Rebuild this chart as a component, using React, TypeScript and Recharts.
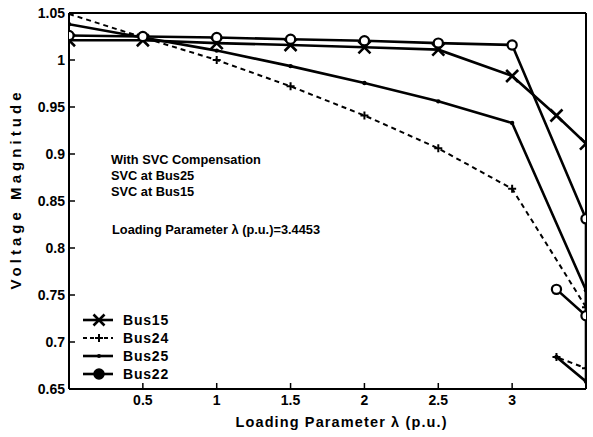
import React from 'react';
import { LineChart, Line, XAxis, YAxis, Legend } from 'recharts';

// ---- data ----
const xTicks = [0.5, 1, 1.5, 2, 2.5, 3];
const yTicks = [0.65, 0.7, 0.75, 0.8, 0.85, 0.9, 0.95, 1, 1.05];

const bus15Lambda = [0, 0.5, 1, 1.5, 2, 2.5, 3.0, 3.3, 3.5];
const bus15V = [1.021, 1.021, 1.018, 1.016, 1.0135, 1.011, 0.983, 0.941, 0.911];

const branchLambda = [0, 0.5, 1, 1.5, 2, 2.5, 3.0, 3.5, 3.5, 3.3];
const bus24V = [1.049, 1.024, 1.0, 0.972, 0.941, 0.906, 0.863, 0.737, 0.672, 0.684];
const bus25V = [1.038, 1.024, 1.01, 0.9935, 0.9755, 0.956, 0.933, 0.755, 0.658, 0.684];
const bus22V = [1.026, 1.025, 1.024, 1.022, 1.0205, 1.018, 1.016, 0.831, 0.728, 0.756];

const seriesNames = ['Bus15', 'Bus24', 'Bus25', 'Bus22'];

const toRows = (xs: number[], ys: number[]) => xs.map((x, i) => ({ x, v: ys[i] }));
const bus15Data = toRows(bus15Lambda, bus15V);
const bus24Data = toRows(branchLambda, bus24V);
const bus25Data = toRows(branchLambda, bus25V);
const bus22Data = toRows(branchLambda, bus22V);

const FONT = '"Liberation Sans", Arial, Helvetica, sans-serif';

// ---- marker shapes ----
const xPath = (cx: number, cy: number, s: number) =>
  `M${cx - s},${cy - s}L${cx + s},${cy + s}M${cx - s},${cy + s}L${cx + s},${cy - s}`;
const plusPath = (cx: number, cy: number, s: number) =>
  `M${cx - s},${cy}L${cx + s},${cy}M${cx},${cy - s}L${cx},${cy + s}`;

const XDot = (p: any) => {
  if (p.cx == null || p.cy == null) return <g key={`x${p.index}`} />;
  return <path key={`x${p.index}`} d={xPath(p.cx, p.cy, 6)} stroke="#000" strokeWidth={2.6} fill="none" />;
};
const PlusDot = (p: any) => {
  if (p.cx == null || p.cy == null) return <g key={`p${p.index}`} />;
  return <path key={`p${p.index}`} d={plusPath(p.cx, p.cy, 4)} stroke="#000" strokeWidth={2} fill="none" />;
};
const PointDot = (p: any) => {
  if (p.cx == null || p.cy == null) return <g key={`d${p.index}`} />;
  return <circle key={`d${p.index}`} cx={p.cx} cy={p.cy} r={2.2} fill="#000" stroke="none" />;
};
const CircleDot = (p: any) => {
  if (p.cx == null || p.cy == null) return <g key={`c${p.index}`} />;
  return <circle key={`c${p.index}`} cx={p.cx} cy={p.cy} r={4.6} fill="#fff" stroke="#000" strokeWidth={2.2} />;
};

const legendRows = [
  { name: seriesNames[0], dash: undefined as string | undefined, width: 2.6, marker: 'x' },
  { name: seriesNames[1], dash: '4 3', width: 2, marker: '+' },
  { name: seriesNames[2], dash: undefined, width: 2.6, marker: '.' },
  { name: seriesNames[3], dash: undefined, width: 2.6, marker: 'o' },
];

const LegendContent = () => (
  <svg width={130} height={80} style={{ display: 'block' }}>
    {legendRows.map((r, i) => {
      const y = 12 + i * 18;
      const cx = 21;
      return (
        <g key={r.name}>
          <line x1={5} x2={35} y1={y} y2={y} stroke="#000" strokeWidth={r.width} strokeDasharray={r.dash} />
          {r.marker === 'x' && <path d={xPath(cx, y, 5.5)} stroke="#000" strokeWidth={2.6} fill="none" />}
          {r.marker === '+' && <path d={plusPath(cx, y, 4)} stroke="#000" strokeWidth={2} fill="none" />}
          {r.marker === '.' && <circle cx={cx} cy={y} r={2} fill="#000" />}
          {r.marker === 'o' && <circle cx={cx} cy={y} r={5} fill="#000" stroke="#000" strokeWidth={1.5} />}
          <text x={45} y={y + 5} fontFamily={FONT} fontWeight="bold" fontSize={14} letterSpacing={0.8} fill="#000">
            {r.name}
          </text>
        </g>
      );
    })}
  </svg>
);

const tickStyle = { fill: '#000', fontSize: 14, fontWeight: 'bold', fontFamily: FONT } as any;
const axisLineStyle = { stroke: '#000', strokeWidth: 2 };
const tickLineStyle = { stroke: '#000', strokeWidth: 1.5 };

export default function App() {
  return (
    <div style={{ position: 'absolute', left: 0, top: 0, width: 593, height: 437, background: '#fff' }}>
      <LineChart width={593} height={437} margin={{ top: 12, right: 6, bottom: 0, left: 0 }}>
        <XAxis
          xAxisId="b"
          type="number"
          dataKey="x"
          domain={[0, 3.5]}
          ticks={xTicks}
          orientation="bottom"
          height={48}
          tickSize={-6}
          tickMargin={12}
          axisLine={axisLineStyle}
          tickLine={tickLineStyle}
          tick={tickStyle}
          allowDataOverflow
        />
        <XAxis
          xAxisId="t"
          type="number"
          dataKey="x"
          domain={[0, 3.5]}
          ticks={xTicks}
          orientation="top"
          height={1}
          tickSize={-6}
          axisLine={axisLineStyle}
          tickLine={tickLineStyle}
          tick={false}
          allowDataOverflow
        />
        <YAxis
          yAxisId="l"
          type="number"
          domain={[0.65, 1.05]}
          ticks={yTicks}
          width={69}
          tickSize={-6}
          tickMargin={10}
          axisLine={axisLineStyle}
          tickLine={tickLineStyle}
          tick={tickStyle}
          allowDataOverflow
        />
        <YAxis
          yAxisId="r"
          orientation="right"
          type="number"
          domain={[0.65, 1.05]}
          ticks={yTicks}
          width={1}
          tickSize={-6}
          axisLine={axisLineStyle}
          tickLine={tickLineStyle}
          tick={false}
          allowDataOverflow
        />
        <Line xAxisId="b" yAxisId="l" name={seriesNames[0]} data={bus15Data} dataKey="v" stroke="#000" strokeWidth={2.6} dot={XDot} activeDot={false} isAnimationActive={false} />
        <Line xAxisId="b" yAxisId="l" name={seriesNames[1]} data={bus24Data} dataKey="v" stroke="#000" strokeWidth={2} strokeDasharray="5 4" dot={PlusDot} activeDot={false} isAnimationActive={false} />
        <Line xAxisId="b" yAxisId="l" name={seriesNames[2]} data={bus25Data} dataKey="v" stroke="#000" strokeWidth={2.6} dot={PointDot} activeDot={false} isAnimationActive={false} />
        <Line xAxisId="b" yAxisId="l" name={seriesNames[3]} data={bus22Data} dataKey="v" stroke="#000" strokeWidth={2.6} dot={CircleDot} activeDot={false} isAnimationActive={false} />
        <Legend
          layout="horizontal"
          verticalAlign="middle"
          align="center"
          content={LegendContent}
          wrapperStyle={{ left: 78, top: 308, width: 130, height: 80 }}
        />
      </LineChart>
      <svg width={593} height={437} style={{ position: 'absolute', left: 0, top: 0, pointerEvents: 'none' }}>
        <g fontFamily={FONT} fontWeight="bold" fill="#000">
          <text x={111} y={164} fontSize={12.8}>With SVC Compensation</text>
          <text x={111} y={180} fontSize={12.8}>SVC at Bus25</text>
          <text x={111} y={196} fontSize={12.8}>SVC at Bus15</text>
          <text x={112} y={234} fontSize={12.8}>Loading Parameter λ (p.u.)=3.4453</text>
          <text x={341} y={427} fontSize={14.5} textAnchor="middle" textLength={211} lengthAdjust="spacing">
            Loading Parameter λ (p.u.)
          </text>
          <text x={21} y={191} fontSize={15} textAnchor="middle" transform="rotate(-90 21 191)" textLength={197} lengthAdjust="spacing">
            Voltage Magnitude
          </text>
        </g>
      </svg>
    </div>
  );
}
